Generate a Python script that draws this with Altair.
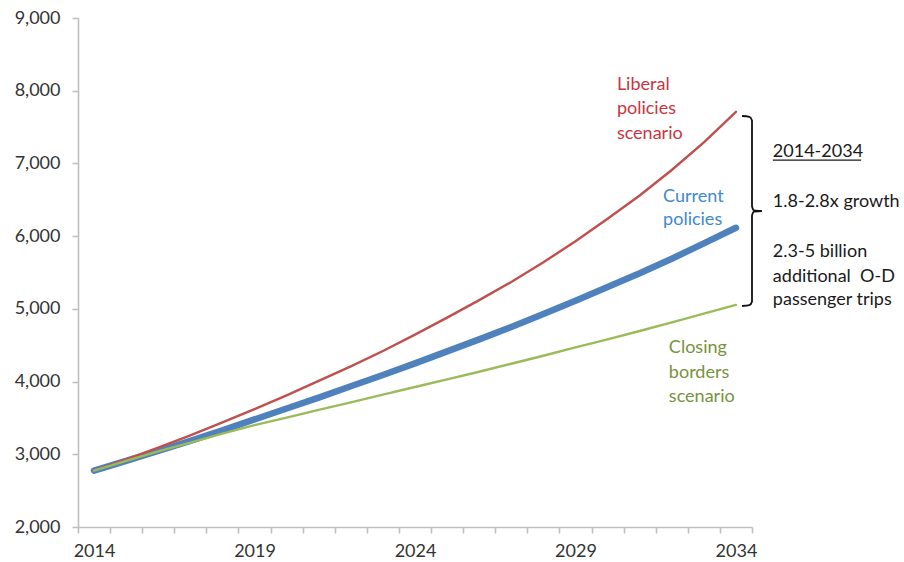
import altair as alt
import pandas as pd

# ---------------- data ----------------
years = list(range(2014, 2035))
liberal = [2775, 2930, 3090, 3260, 3440, 3620, 3810, 4010, 4210, 4420, 4645,
           4880, 5120, 5370, 5640, 5930, 6240, 6560, 6910, 7290, 7710]
current = [2775, 2910, 3045, 3185, 3330, 3480, 3630, 3780, 3935, 4090, 4250,
           4415, 4580, 4750, 4930, 5110, 5300, 5490, 5690, 5900, 6115]
closing = [2775, 2910, 3040, 3160, 3285, 3400, 3505, 3610, 3715, 3820, 3925,
           4030, 4135, 4245, 4355, 4470, 4580, 4695, 4815, 4935, 5055]
y_ticks = [2000, 3000, 4000, 5000, 6000, 7000, 8000, 9000]
x_label_years = [2014, 2019, 2024, 2029, 2034]

series_names = ["Liberal", "Current", "Closing"]
series_colors = {"Liberal": "#C0504D", "Current": "#4F81BD", "Closing": "#9BBB59"}

rows = []
for name, vals in zip(series_names, [liberal, current, closing]):
    for yr, v in zip(years, vals):
        rows.append({"year": yr, "value": v, "series": name})
df = pd.DataFrame(rows)

# annotation texts (positions in data units: year, value at baseline)
ann_text = ["Liberal", "policies", "scenario",
            "Current", "policies",
            "Closing", "borders", "scenario",
            "2014-2034", "1.8-2.8x growth", "2.3-5 billion",
            "additional\u00a0 O-D", "passenger trips"]
ann_year = [2030.29, 2030.29, 2030.29,
            2031.73, 2031.73,
            2031.91, 2031.91, 2031.91,
            2035.15, 2035.15, 2035.15, 2035.15, 2035.15]
ann_value = [8010, 7680, 7336,
             6469, 6153,
             4393, 4049, 3719,
             7088, 6401, 5713, 5369, 5053]
ann_color = ["#C9353D"] * 3 + ["#3D8AD0"] * 2 + ["#77933C"] * 3 + ["#1a1a1a"] * 5
ann = pd.DataFrame({"text": ann_text, "year": ann_year, "value": ann_value,
                    "color": ann_color})

# brace (right curly bracket) path in data units
brace_year = [2034.19, 2034.42, 2034.5, 2034.5, 2034.56, 2034.81,
              2034.56, 2034.5, 2034.5, 2034.42, 2034.19]
brace_value = [7652, 7640, 7590, 6410, 6355, 6346,
               6337, 6282, 5100, 5050, 5039]
brace = pd.DataFrame({"year": brace_year, "value": brace_value,
                      "i": list(range(len(brace_year)))})

underline = pd.DataFrame({"year": [2035.15], "year2": [2037.9], "value": [7045]})

# ---------------- encodings ----------------
x_tick_values = [y - 0.5 for y in years] + [2034.5] + x_label_years
FONT = "Lato"

x_scale = alt.Scale(domain=[2013.5, 2034.5], nice=False, zero=False)
y_scale = alt.Scale(domain=[2000, 9000], nice=False, zero=False)

x_axis = alt.Axis(
    values=x_tick_values,
    labelExpr="datum.value % 1 == 0 ? toString(datum.value) : ''",
    tickOpacity={"condition": {"test": "datum.value % 1 == 0", "value": 0}, "value": 1},
    labelOverlap=False, labelFlush=False, labelBound=False,
    grid=False, tickSize=6, labelPadding=9, title=None,
)
y_axis = alt.Axis(values=y_ticks, format=",.0f", grid=False, tickSize=6,
                  labelPadding=12, title=None)

X = alt.X("year:Q", scale=x_scale, axis=x_axis)
Y = alt.Y("value:Q", scale=y_scale, axis=y_axis)

def line_layer(name, width):
    return (alt.Chart(df)
            .transform_filter(alt.datum.series == name)
            .mark_line(color=series_colors[name], strokeWidth=width, strokeCap="round")
            .encode(x=X, y=Y))

blue = line_layer("Current", 6.5)
red = line_layer("Liberal", 2.4)
green = line_layer("Closing", 2.4)

texts = alt.Chart(ann).mark_text(align="left", baseline="alphabetic",
                                 font=FONT, fontSize=18).encode(
    x=X, y=Y, text="text:N", color=alt.Color("color:N", scale=None))

brace_layer = alt.Chart(brace).mark_line(color="#111111", strokeWidth=1.8,
                                         interpolate="monotone").encode(
    x=X, y=Y, order="i:Q")

under = alt.Chart(underline).mark_rule(color="#1a1a1a", strokeWidth=1.2).encode(
    x=X, x2="year2:Q", y=Y)

chart = (alt.layer(blue, red, green, brace_layer, under, texts)
         .properties(width=674, height=509,
                     autosize=alt.AutoSizeParams(type="none"),
                     padding={"left": 78, "top": 18, "right": 152, "bottom": 35},
                     background="white")
         .configure_view(stroke=None)
         .configure_axis(labelFont=FONT, labelFontSize=18, labelColor="#333333",
                         domainColor="#BFBFBF", domainWidth=1.6,
                         tickColor="#BFBFBF", tickWidth=1.6))

chart.save("out.html", embed_options={"renderer": "svg", "actions": False})
